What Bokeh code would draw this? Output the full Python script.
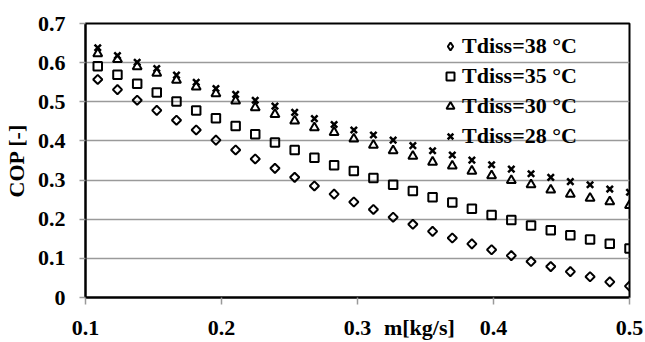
import math
from bokeh.plotting import figure
from bokeh.models import FixedTicker, Legend, LegendItem, Range1d
from bokeh.embed import file_html
from bokeh.resources import INLINE

# ---- data ----
m_flow = [0.109, 0.1235, 0.138, 0.1524, 0.1669, 0.1814, 0.1959, 0.2104, 0.2248, 0.2393,
          0.2538, 0.2683, 0.2828, 0.2973, 0.3117, 0.3262, 0.3407, 0.3552, 0.3697, 0.3841,
          0.3986, 0.4131, 0.4276, 0.4421, 0.4565, 0.4710, 0.4855, 0.500]

cop_38 = [0.557, 0.531, 0.504, 0.478, 0.453, 0.428, 0.402, 0.377, 0.354, 0.330,
          0.307, 0.285, 0.264, 0.244, 0.225, 0.205, 0.187, 0.169, 0.152, 0.137,
          0.122, 0.107, 0.092, 0.079, 0.066, 0.053, 0.040, 0.029]
cop_35 = [0.591, 0.569, 0.546, 0.524, 0.501, 0.478, 0.458, 0.438, 0.417, 0.396,
          0.377, 0.357, 0.338, 0.323, 0.305, 0.288, 0.272, 0.256, 0.243, 0.227,
          0.211, 0.198, 0.184, 0.172, 0.159, 0.148, 0.137, 0.125]
cop_30 = [0.623, 0.608, 0.590, 0.573, 0.555, 0.538, 0.521, 0.502, 0.485, 0.468,
          0.451, 0.434, 0.422, 0.405, 0.389, 0.375, 0.361, 0.346, 0.336, 0.323,
          0.311, 0.299, 0.288, 0.275, 0.264, 0.254, 0.245, 0.235]
cop_28 = [0.638, 0.618, 0.601, 0.585, 0.568, 0.550, 0.534, 0.519, 0.504, 0.489,
          0.473, 0.457, 0.442, 0.428, 0.415, 0.402, 0.388, 0.375, 0.364, 0.351,
          0.339, 0.328, 0.316, 0.307, 0.296, 0.288, 0.277, 0.269]

series_labels = ["Tdiss=38 °C", "Tdiss=35 °C", "Tdiss=30 °C", "Tdiss=28 °C"]

x_ticks = [0.1, 0.2, 0.3, 0.4, 0.5]
x_tick_labels = ["0.1", "0.2", "0.3", "0.4", "0.5"]
y_ticks = [0, 0.1, 0.2, 0.3, 0.4, 0.5, 0.6, 0.7]
y_tick_labels = ["0", "0.1", "0.2", "0.3", "0.4", "0.5", "0.6", "0.7"]
grid_ticks = [0.1, 0.2, 0.3, 0.4, 0.5, 0.6]

x_title = "m[kg/s]"
x_title_at = 0.3455          # the x title sits on the tick-label row, between 0.3 and 0.4
y_title = "COP [-]"

FONT = "Liberation Serif"
FS = "22px"

p = figure(width=645, height=342, output_backend="svg", toolbar_location=None,
           x_range=Range1d(0.1, 0.5), y_range=Range1d(0, 0.7),
           min_border_left=83, min_border_right=16, min_border_top=23, min_border_bottom=44)
p.background_fill_color = "white"
p.border_fill_color = "white"
p.outline_line_color = "black"
p.outline_line_width = 2

for ax in (p.xaxis[0], p.yaxis[0]):
    ax.axis_line_color = "black"
    ax.axis_line_width = 2
    ax.major_tick_line_color = "#9a9a9a"
    ax.major_tick_line_width = 1.5
    ax.major_tick_in = 0
    ax.minor_tick_in = 0
    ax.major_label_text_font = FONT
    ax.major_label_text_font_style = "bold"
    ax.major_label_text_font_size = FS
    ax.major_label_text_color = "black"

# x axis: labelled ticks plus the axis title on the same row; visible tick marks as minor ticks
p.xaxis.ticker = FixedTicker(ticks=x_ticks + [x_title_at], minor_ticks=x_ticks)
overrides = dict(zip(x_ticks, x_tick_labels))
overrides[x_title_at] = x_title
p.xaxis.major_label_overrides = overrides
p.xaxis.major_tick_out = 0
p.xaxis.minor_tick_out = 7
p.xaxis.minor_tick_line_color = "#9a9a9a"
p.xaxis.minor_tick_line_width = 1.5
p.xaxis.major_label_standoff = 10

p.yaxis.ticker = FixedTicker(ticks=y_ticks)
p.yaxis.major_label_overrides = dict(zip(y_ticks, y_tick_labels))
p.yaxis.major_tick_out = 6
p.yaxis.minor_tick_line_color = None
p.yaxis.major_label_standoff = 14
p.yaxis.axis_label = y_title
p.yaxis.axis_label_text_font = FONT
p.yaxis.axis_label_text_font_style = "bold"
p.yaxis.axis_label_text_font_size = FS
p.yaxis.axis_label_text_color = "black"
p.yaxis.axis_label_standoff = 6

p.xgrid.visible = False
p.ygrid.ticker = FixedTicker(ticks=grid_ticks)
p.ygrid.grid_line_color = "#9a9a9a"
p.ygrid.grid_line_width = 1.5

common = dict(line_color="black", fill_color=None)
r38 = p.scatter(m_flow, cop_38, marker="square", angle=math.pi / 4, size=6.5, line_width=2, **common)
r35 = p.scatter(m_flow, cop_35, marker="square", size=8.5, line_width=2, **common)
r30 = p.scatter(m_flow, cop_30, marker="triangle", size=9, line_width=2, **common)
r28 = p.scatter(m_flow, cop_28, marker="x", size=9, line_width=2.5, **common)
# legend key for the diamond series (a legend ignores a marker's angle); zero size in the plot
r38_key = p.scatter(m_flow, cop_38, marker="diamond", size=0, line_width=2, **common)

legend = Legend(items=[LegendItem(label=series_labels[0], renderers=[r38_key]),
                       LegendItem(label=series_labels[1], renderers=[r35]),
                       LegendItem(label=series_labels[2], renderers=[r30]),
                       LegendItem(label=series_labels[3], renderers=[r28])],
                location=(355, 148), orientation="vertical")
legend.margin = 0
legend.padding = 0
legend.spacing = 4
legend.glyph_width = 20
legend.glyph_height = 20
legend.label_standoff = 2
legend.label_text_font = FONT
legend.label_text_font_style = "bold"
legend.label_text_font_size = FS
legend.label_text_color = "black"
legend.background_fill_alpha = 0
legend.border_line_alpha = 0
p.add_layout(legend)

open("out.html", "w").write(file_html(p, INLINE))
